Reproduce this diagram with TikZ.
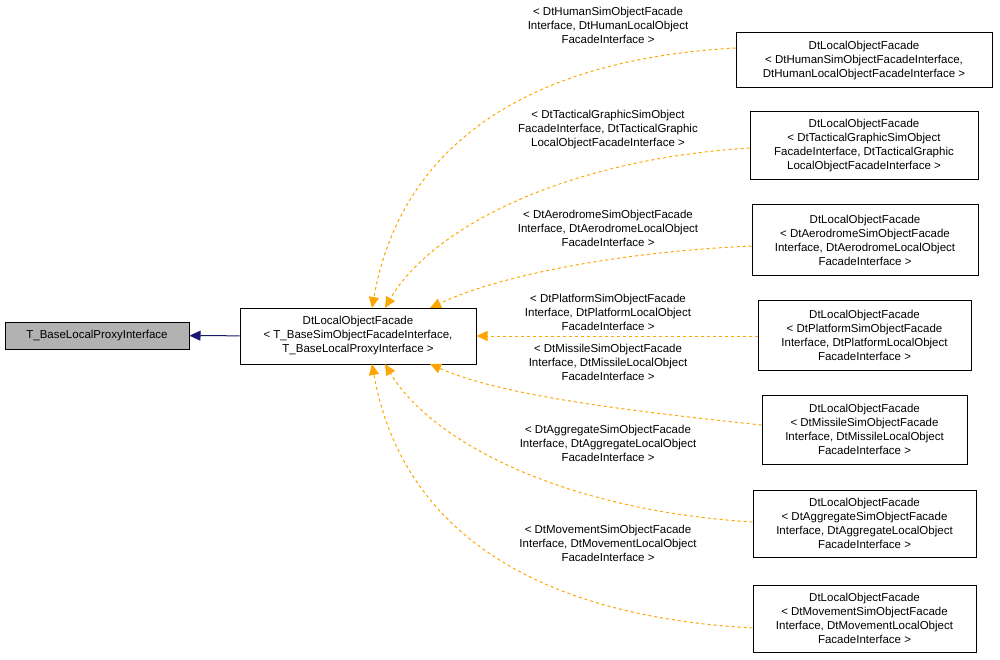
\documentclass[tikz,border=0pt]{standalone}
\usepackage{fontspec}
\setmainfont{Liberation Sans}
\usetikzlibrary{positioning, arrows.meta}
\definecolor{tmplorange}{HTML}{FFA500}
\definecolor{inhblue}{HTML}{191970}

\begin{document}
\begin{tikzpicture}[x=1pt, y=-1pt, font=\fontsize{11.5}{14}\selectfont, line width=1pt,
    cls/.style={draw, align=center, inner sep=2pt},
    lbl/.style={align=center, inner sep=0pt},
    tmpl/.style={draw=tmplorange, dashed, -{Triangle[length=11pt,width=10pt]}},
    inh/.style={draw=inhblue, -{Triangle[length=11pt,width=10pt]}}]
    \useasboundingbox (0,0) rectangle (1000,660);
    % Define classes
    \node[cls, fill=gray!60, minimum width=184pt, minimum height=27pt] (base) at (97,335.5) {T\_BaseLocalProxyInterface};
    \node[cls, minimum width=236pt, minimum height=56pt] (facade) at (358,336)
        {DtLocalObjectFacade\\\textless{} T\_BaseSimObjectFacadeInterface,\\T\_BaseLocalProxyInterface \textgreater};
    \node[cls, minimum width=256pt, minimum height=55pt] (human) at (864,60.5)
        {DtLocalObjectFacade\\\textless{} DtHumanSimObjectFacadeInterface,\\DtHumanLocalObjectFacadeInterface \textgreater};
    \node[cls, minimum width=228pt, minimum height=68pt] (tactical) at (864,146)
        {DtLocalObjectFacade\\\textless{} DtTacticalGraphicSimObject\\FacadeInterface, DtTacticalGraphic\\LocalObjectFacadeInterface \textgreater};
    \node[cls, minimum width=226pt, minimum height=70pt] (aero) at (865,240)
        {DtLocalObjectFacade\\\textless{} DtAerodromeSimObjectFacade\\Interface, DtAerodromeLocalObject\\FacadeInterface \textgreater};
    \node[cls, minimum width=213pt, minimum height=70pt] (platform) at (864.5,335)
        {DtLocalObjectFacade\\\textless{} DtPlatformSimObjectFacade\\Interface, DtPlatformLocalObject\\FacadeInterface \textgreater};
    \node[cls, minimum width=205pt, minimum height=69pt] (missile) at (864.5,429.5)
        {DtLocalObjectFacade\\\textless{} DtMissileSimObjectFacade\\Interface, DtMissileLocalObject\\FacadeInterface \textgreater};
    \node[cls, minimum width=223pt, minimum height=67pt] (aggregate) at (864.5,523.5)
        {DtLocalObjectFacade\\\textless{} DtAggregateSimObjectFacade\\Interface, DtAggregateLocalObject\\FacadeInterface \textgreater};
    \node[cls, minimum width=223pt, minimum height=67pt] (movement) at (864.5,618.5)
        {DtLocalObjectFacade\\\textless{} DtMovementSimObjectFacade\\Interface, DtMovementLocalObject\\FacadeInterface \textgreater};

    % Define labels
    \node[lbl] (lhuman) at (608,25) {\textless{} DtHumanSimObjectFacade\\Interface, DtHumanLocalObject\\FacadeInterface \textgreater};
    \node[lbl] (ltactical) at (608,130) {\textless{} DtTacticalGraphicSimObject\\FacadeInterface, DtTacticalGraphic\\LocalObjectFacadeInterface \textgreater};
    \node[lbl] (laero) at (608,228) {\textless{} DtAerodromeSimObjectFacade\\Interface, DtAerodromeLocalObject\\FacadeInterface \textgreater};
    \node[lbl] (lplatform) at (608,312) {\textless{} DtPlatformSimObjectFacade\\Interface, DtPlatformLocalObject\\FacadeInterface \textgreater};
    \node[lbl] (lmissile) at (608,362) {\textless{} DtMissileSimObjectFacade\\Interface, DtMissileLocalObject\\FacadeInterface \textgreater};
    \node[lbl] (laggregate) at (608,443) {\textless{} DtAggregateSimObjectFacade\\Interface, DtAggregateLocalObject\\FacadeInterface \textgreater};
    \node[lbl] (lmovement) at (608,543) {\textless{} DtMovementSimObjectFacade\\Interface, DtMovementLocalObject\\FacadeInterface \textgreater};

    % Define edges
    \draw[inh] (facade) -- (base);
    \draw[tmpl] (human.west|-0,48) .. controls (520,60) and (400,150) .. (372,308);
    \draw[tmpl] (tactical.west|-0,148) .. controls (560,160) and (430,230) .. (385,308);
    \draw[tmpl] (aero.west|-0,246) .. controls (620,252) and (500,275) .. (430,308);
    \draw[tmpl] (platform.west|-0,336) -- (facade.east);
    \draw[tmpl] (missile.west|-0,425) .. controls (620,410) and (500,395) .. (430,364);
    \draw[tmpl] (aggregate.west|-0,522) .. controls (560,510) and (430,440) .. (385,364);
    \draw[tmpl] (movement.west|-0,628) .. controls (520,615) and (400,520) .. (372,364);
\end{tikzpicture}
\end{document}
